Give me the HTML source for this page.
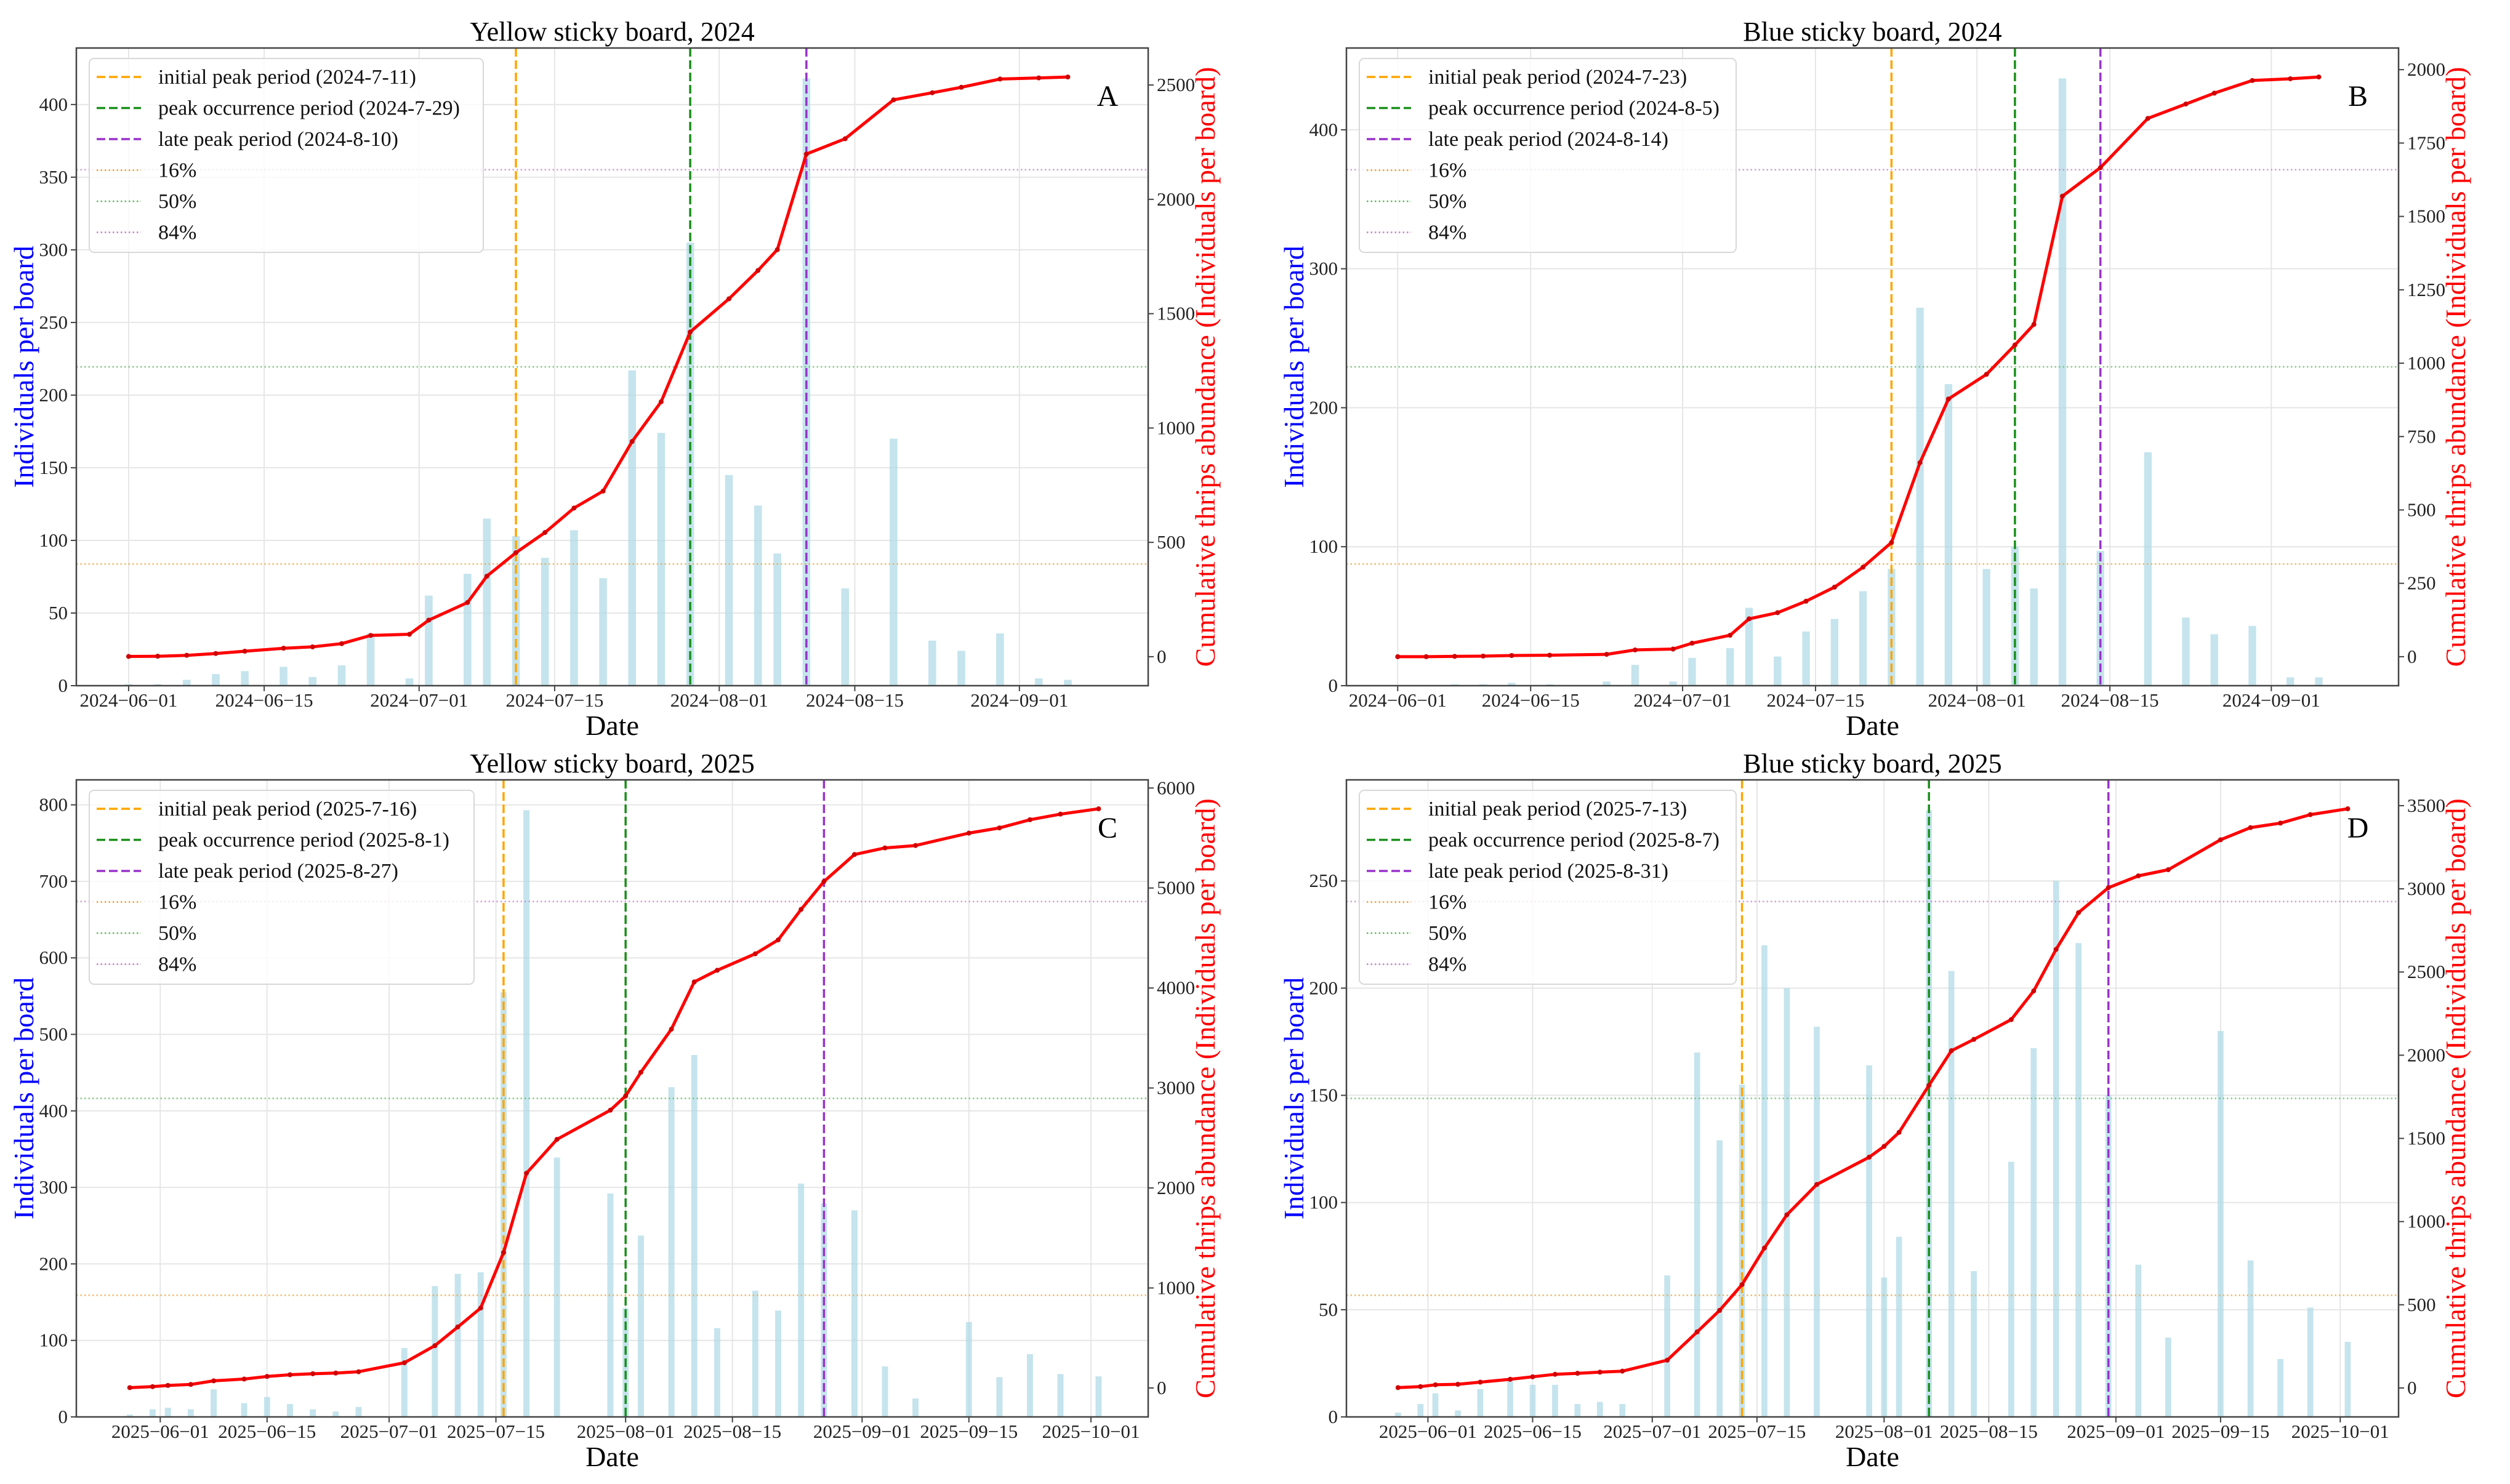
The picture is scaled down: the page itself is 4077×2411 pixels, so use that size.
<!DOCTYPE html>
<html><head><meta charset="utf-8">
<style>
html,body{margin:0;padding:0;background:#fff;}
svg{display:block;font-family:"Liberation Serif","DejaVu Serif",serif;}
</style></head>
<body>
<svg id="fig" width="4077" height="2411" viewBox="0 0 4077 2411" xmlns="http://www.w3.org/2000/svg">
<rect x="0" y="0" width="4077" height="2411" fill="#fff"/>
</svg>
<script>
// ---- Panel A: Yellow sticky board, 2024 ----
const datesA = ["06-01","06-04","06-07","06-10","06-13","06-17","06-20","06-23","06-26","06-30","07-02","07-06","07-08","07-11","07-14","07-17","07-20","07-23","07-26","07-29","08-02","08-05","08-07","08-10","08-14","08-19","08-23","08-26","08-30","09-03","09-06"];
const valuesA = [1,1,4,8,10,13,6,14,36,5,62,77,115,103,88,107,74,217,174,305,145,124,91,418,67,170,31,24,36,5,4];
const peaksA = ["07-11","07-29","08-10"];
const leftTicksA = [0,50,100,150,200,250,300,350,400];
const rightTicksA = [0,500,1000,1500,2000,2500];
// ---- Panel B: Blue sticky board, 2024 ----
const datesB = ["06-01","06-04","06-07","06-10","06-13","06-17","06-23","06-26","06-30","07-02","07-06","07-08","07-11","07-14","07-17","07-20","07-23","07-26","07-29","08-02","08-05","08-07","08-10","08-14","08-19","08-23","08-26","08-30","09-03","09-06"];
const valuesB = [0,0,1,1,2,1,3,15,3,20,27,56,21,39,48,68,84,272,217,84,100,70,437,97,168,49,37,43,6,6];
const peaksB = ["07-23","08-05","08-14"];
const leftTicksB = [0,100,200,300,400];
const rightTicksB = [0,250,500,750,1000,1250,1500,1750,2000];
// ---- Panel C: Yellow sticky board, 2025 ----
const datesC = ["05-28","05-31","06-02","06-05","06-08","06-12","06-15","06-18","06-21","06-24","06-27","07-03","07-07","07-10","07-13","07-16","07-19","07-23","07-30","08-01","08-03","08-07","08-10","08-13","08-18","08-21","08-24","08-27","08-31","09-04","09-08","09-15","09-19","09-23","09-27","10-02"];
const valuesC = [3,10,12,10,36,18,26,17,10,7,13,90,171,187,189,555,793,339,292,142,237,431,473,116,165,139,305,279,270,66,24,124,52,82,56,53];
const peaksC = ["07-16","08-01","08-27"];
const leftTicksC = [0,100,200,300,400,500,600,700,800];
const rightTicksC = [0,1000,2000,3000,4000,5000,6000];
// ---- Panel D: Blue sticky board, 2025 ----
const datesD = ["05-28","05-31","06-02","06-05","06-08","06-12","06-15","06-18","06-21","06-24","06-27","07-03","07-07","07-10","07-13","07-16","07-19","07-23","07-30","08-01","08-03","08-07","08-10","08-13","08-18","08-21","08-24","08-27","08-31","09-04","09-08","09-15","09-19","09-23","09-27","10-02"];
const valuesD = [2,6,11,3,13,17,15,15,6,7,6,66,170,129,155,220,200,182,164,65,84,283,208,68,119,172,250,221,150,71,37,180,73,27,51,35];
const peaksD = ["07-13","08-07","08-31"];
const leftTicksD = [0,50,100,150,200,250];
const rightTicksD = [0,500,1000,1500,2000,2500,3000,3500];
// x tick labels
const xTicks2024 = ["06-01","06-15","07-01","07-15","08-01","08-15","09-01"];
const xTicks2025 = ["06-01","06-15","07-01","07-15","08-01","08-15","09-01","09-15","10-01"];

const NS = "http://www.w3.org/2000/svg";
const svg = document.getElementById("fig");
function mk(tag, attrs, parent){
  const e = document.createElementNS(NS, tag);
  for (const k in attrs) e.setAttribute(k, attrs[k]);
  (parent||svg).appendChild(e);
  return e;
}
function dayOf(md){
  const m = parseInt(md.slice(0,2),10), d = parseInt(md.slice(3),10);
  const off = {5:-31,6:0,7:30,8:61,9:92,10:122}[m];
  return off + d - 1;
}

function panel(cfg){
  const g = mk("g", {});
  
  
  const L=cfg.L, R=cfg.R, T=cfg.T, B=cfg.B;
  const xs = d => L + (dayOf(d) - cfg.d0) / (cfg.d1 - cfg.d0) * (R - L);
  const maxV = Math.max(...cfg.values);
  const yMax = maxV * 1.05;
  const yl = v => B - v / yMax * (B - T);
  const cum = []; let s = 0;
  cfg.values.forEach(v => { s += v; cum.push(s); });
  const tot = s;
  const r0 = -0.05 * tot, r1 = 1.05 * tot;
  const yr = v => B - (v - r0) / (r1 - r0) * (B - T);

  // grid
  cfg.xticks.forEach(t => {
    const x = xs(t);
    const gl = mk("line", {x1:x, x2:x, y1:T, y2:B, stroke:"#e6e6e6", "stroke-width":2}, g);
    
    
  });
  cfg.lticks.forEach(t => {
    const y = yl(t);
    const gl = mk("line", {x1:L, x2:R, y1:y, y2:y, stroke:"#e6e6e6", "stroke-width":2}, g);
    
    
  });

  // bars
  const bw = 0.8 / (cfg.d1 - cfg.d0) * (R - L);
  cfg.dates.forEach((d, i) => {
    const v = cfg.values[i];
    if (v <= 0) return;
    const x = xs(d);
    const b = mk("rect", {x:x - bw/2, y:yl(v), width:bw, height:B - yl(v), fill:"#add8e6", "fill-opacity":0.7}, g);
    
    
  });

  // percentile lines
  const pcts = [[0.16,"#f0a030"],[0.5,"#5cb85c"],[0.84,"#c080c8"]];
  pcts.forEach(p => {
    const y = yr(p[0]*tot);
    const hl = mk("line", {x1:L, x2:R, y1:y, y2:y, stroke:p[1], "stroke-width":2.5, "stroke-dasharray":"2.5,4", "stroke-opacity":0.75}, g);
    
    
  });

  // peak vertical lines
  const pcol = ["#ffa500","#1a8f1a","#9932cc"];
  cfg.peaks.forEach((d, i) => {
    const x = xs(d);
    const vl = mk("line", {x1:x, x2:x, y1:T, y2:B, stroke:pcol[i], "stroke-width":3.5, "stroke-dasharray":"14,6"}, g);
    
    
  });

  // cumulative line
  let pts = cfg.dates.map((d, i) => xs(d).toFixed(1) + "," + yr(cum[i]).toFixed(1)).join(" ");
  const pl = mk("polyline", {points:pts, fill:"none", stroke:"#ff0000", "stroke-width":5, "stroke-linejoin":"round"}, g);
  
  
  cfg.dates.forEach((d, i) => {
    const c = mk("circle", {cx:xs(d), cy:yr(cum[i]), r:4, fill:"#d00000"}, g);
    
    
  });

  // frame
  const fr = mk("rect", {x:L, y:T, width:R-L, height:B-T, fill:"none", stroke:"#444", "stroke-width":2.5}, g);
  
  

  // x ticks
  cfg.xticks.forEach(t => {
    const x = xs(t);
    mk("line", {x1:x, x2:x, y1:B, y2:B+9, stroke:"#444", "stroke-width":2}, g);
    const tx = mk("text", {x:x, y:B+34, "font-size":31, "text-anchor":"middle", fill:"#222"}, g);
    tx.textContent = cfg.year + "\u2212" + t.replace("-", "\u2212");
    
    
  });
  // left ticks
  cfg.lticks.forEach(t => {
    const y = yl(t);
    mk("line", {x1:L-9, x2:L, y1:y, y2:y, stroke:"#444", "stroke-width":2}, g);
    const tx = mk("text", {x:L-14, y:y+10, "font-size":31, "text-anchor":"end", fill:"#222"}, g);
    tx.textContent = t;
    
    
  });
  // right ticks
  cfg.rticks.forEach(t => {
    const y = yr(t);
    mk("line", {x1:R, x2:R+9, y1:y, y2:y, stroke:"#444", "stroke-width":2}, g);
    const tx = mk("text", {x:R+14, y:y+10, "font-size":31, "text-anchor":"start", fill:"#222"}, g);
    tx.textContent = t;
    
    
  });

  // title
  const ti = mk("text", {x:(L+R)/2, y:T-12, "font-size":44, "text-anchor":"middle", fill:"#000"}, g);
  ti.textContent = cfg.title;
  
  
  // x label
  const xl = mk("text", {x:(L+R)/2, y:B+80, "font-size":46, "text-anchor":"middle", fill:"#000"}, g);
  xl.textContent = "Date";
  
  
  // y labels
  const cy = (T+B)/2;
  const ylb = mk("text", {x:L-70, y:cy, "font-size":46, "text-anchor":"middle", fill:"#0000ff", transform:"rotate(-90 " + (L-70) + " " + cy + ")"}, g);
  ylb.textContent = "Individuals per board";
  
  
  const yrx = R + 108;
  const yrb = mk("text", {x:yrx, y:cy, "font-size":46, "text-anchor":"middle", fill:"#ff0000", transform:"rotate(-90 " + yrx + " " + cy + ")"}, g);
  yrb.textContent = "Cumulative thrips abundance (Individuals per board)";
  
  
  // panel letter
  const pl2 = mk("text", {x:R-66, y:T+94, "font-size":48, "text-anchor":"middle", fill:"#000"}, g);
  pl2.textContent = cfg.letter;
  
  

  // legend
  const lx = L + 21, ly = T + 17, lw = cfg.legW, lh = 315;
  const lg = mk("g", {}, g);
  
  
  mk("rect", {x:lx, y:ly, width:lw, height:lh, rx:8, fill:"#fff", "fill-opacity":0.8, stroke:"#d8d8d8", "stroke-width":2}, lg);
  const fmt = d => cfg.year + "-" + parseInt(d.slice(0,2),10) + "-" + parseInt(d.slice(3),10);
  const entries = [
    ["initial peak period (" + fmt(cfg.peaks[0]) + ")", "#ffa500", "14,6", 3.5],
    ["peak occurrence period (" + fmt(cfg.peaks[1]) + ")", "#1a8f1a", "14,6", 3.5],
    ["late peak period (" + fmt(cfg.peaks[2]) + ")", "#9932cc", "14,6", 3.5],
    ["16%", "#f0a030", "2.5,4", 2.5],
    ["50%", "#5cb85c", "2.5,4", 2.5],
    ["84%", "#c080c8", "2.5,4", 2.5]
  ];
  entries.forEach((e, i) => {
    const y = ly + 30 + i * 50.5;
    mk("line", {x1:lx+12, x2:lx+84, y1:y, y2:y, stroke:e[1], "stroke-width":e[3], "stroke-dasharray":e[2]}, lg);
    const t = mk("text", {x:lx+112, y:y+11, "font-size":34, fill:"#111"}, lg);
    t.textContent = e[0];
    
    
  });
}

panel({name:"panel-a", letter:"A", title:"Yellow sticky board, 2024", year:"2024", L:124, R:1865, T:78, B:1114, d0:-5.4, d1:105.3,
  dates:datesA, values:valuesA, peaks:peaksA, lticks:leftTicksA, rticks:rightTicksA, xticks:xTicks2024, legW:640});
panel({name:"panel-b", letter:"B", title:"Blue sticky board, 2024", year:"2024", L:2187, R:3896, T:78, B:1114, d0:-5.4, d1:105.4,
  dates:datesB, values:valuesB, peaks:peaksB, lticks:leftTicksB, rticks:rightTicksB, xticks:xTicks2024, legW:612});
panel({name:"panel-c", letter:"C", title:"Yellow sticky board, 2025", year:"2025", L:124, R:1865, T:1267, B:2302, d0:-11, d1:129.5,
  dates:datesC, values:valuesC, peaks:peaksC, lticks:leftTicksC, rticks:rightTicksC, xticks:xTicks2025, legW:625});
panel({name:"panel-d", letter:"D", title:"Blue sticky board, 2025", year:"2025", L:2187, R:3896, T:1267, B:2302, d0:-10.9, d1:129.8,
  dates:datesD, values:valuesD, peaks:peaksD, lticks:leftTicksD, rticks:rightTicksD, xticks:xTicks2025, legW:612});
</script>
</body></html>
